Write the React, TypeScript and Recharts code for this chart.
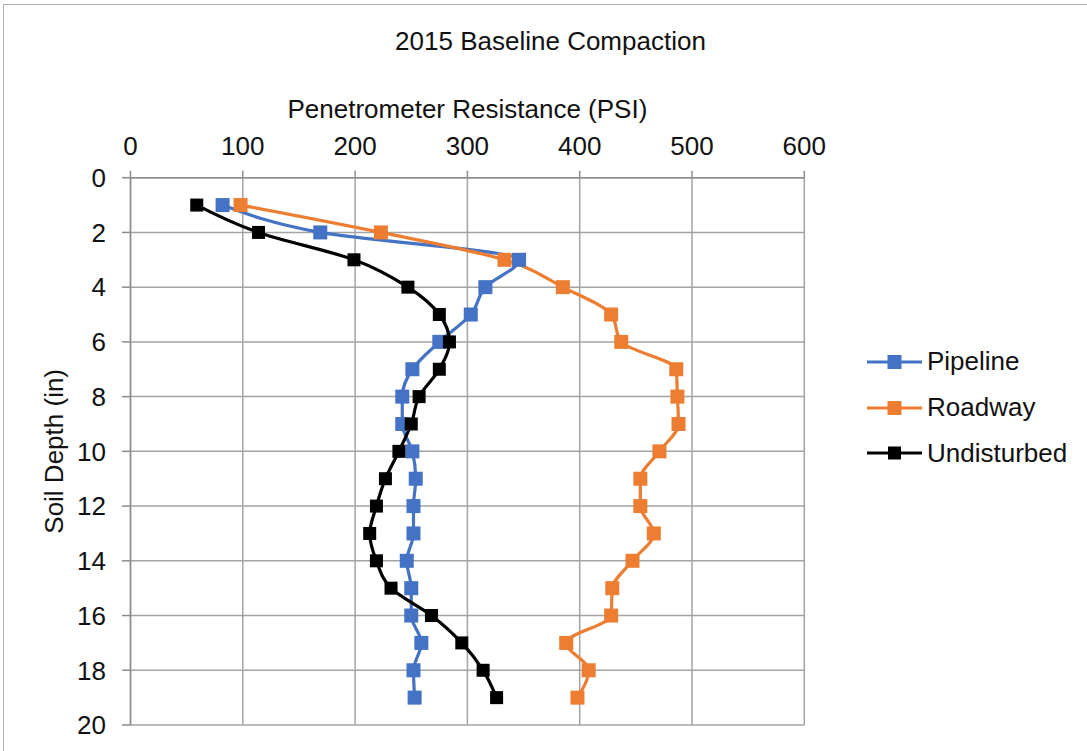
import React from "react";
import { LineChart, Line, XAxis, YAxis, CartesianGrid } from "recharts";

// Penetrometer readings (PSI) by soil depth (in)
const depths = [1, 2, 3, 4, 5, 6, 7, 8, 9, 10, 11, 12, 13, 14, 15, 16, 17, 18, 19];
const pipeline = [82, 169, 346, 316, 303, 275, 251, 242, 242, 251, 254, 252, 252, 246, 250, 250, 259, 252, 253];
const roadway = [98, 223, 333, 385, 428, 437, 486, 487, 488, 471, 454, 454, 466, 447, 429, 428, 388, 408, 398];
const undisturbed = [59, 114, 199, 247, 275, 284, 275, 257, 250, 239, 227, 219, 213, 219, 232, 268, 295, 314, 326];

const psiTicks = [0, 100, 200, 300, 400, 500, 600];
const depthTicks = [0, 2, 4, 6, 8, 10, 12, 14, 16, 18, 20];

const series = [
  { key: "Pipeline", color: "#4472C4", marker: 14 },
  { key: "Roadway", color: "#ED7D31", marker: 14 },
  { key: "Undisturbed", color: "#000000", marker: 13 },
];

const data = depths.map((depth, i) => ({
  depth,
  Pipeline: pipeline[i],
  Roadway: roadway[i],
  Undisturbed: undisturbed[i],
}));

const FONT = "'Liberation Sans', Arial, sans-serif";
const GRID = "#a3a3a3";
const tickStyle = { fontSize: 26, fill: "#111", fontFamily: FONT };

function squareDot(color: string, size: number) {
  return (props: any) => {
    const { cx, cy, index } = props;
    if (cx == null || cy == null) return <g key={index} />;
    return (
      <rect key={index} x={cx - size / 2} y={cy - size / 2} width={size} height={size} fill={color} />
    );
  };
}

function DepthLabel({ viewBox }: any) {
  const x = 63;
  const y = viewBox.y + viewBox.height / 2;
  return (
    <text
      x={x}
      y={y}
      transform={`rotate(-90, ${x}, ${y})`}
      textAnchor="middle"
      fontSize={26}
      fill="#111"
      fontFamily={FONT}
    >
      Soil Depth (in)
    </text>
  );
}

function SeriesLegend() {
  return (
    <div style={{ position: "absolute", left: 866, top: 339, fontFamily: FONT, fontSize: 26, color: "#111" }}>
      {series.map((s) => (
        <div key={s.key} style={{ display: "flex", alignItems: "center", height: 45.8 }}>
          <svg width={58} height={20} style={{ marginRight: 3 }}>
            <line x1={1} y1={10} x2={56} y2={10} stroke={s.color} strokeWidth={3.2} />
            <rect x={28.5 - s.marker / 2} y={10 - s.marker / 2} width={s.marker} height={s.marker} fill={s.color} />
          </svg>
          <span>{s.key}</span>
        </div>
      ))}
    </div>
  );
}

export default function App() {
  return (
    <div style={{ position: "absolute", left: 0, top: 0, width: 1087, height: 751, overflow: "hidden", background: "#fff" }}>
      <div
        style={{
          position: "absolute",
          left: 3,
          top: 4,
          width: 1100,
          height: 800,
          borderTop: "1.5px solid #b0b0b0",
          borderLeft: "1.5px solid #b0b0b0",
        }}
      />
      <div
        style={{
          position: "absolute",
          left: 0,
          top: 28,
          width: 1101,
          textAlign: "center",
          fontFamily: FONT,
          fontSize: 26,
          color: "#111",
          lineHeight: "26px",
        }}
      >
        2015 Baseline Compaction
      </div>
      <div style={{ position: "absolute", left: 0, top: 0 }}>
        <LineChart
          width={1087}
          height={751}
          data={data}
          layout="vertical"
          margin={{ top: 137.7, right: 282.7, bottom: 26, left: 30.5 }}
        >
          <CartesianGrid stroke={GRID} strokeWidth={1.5} horizontalValues={depthTicks} verticalValues={psiTicks} />
          <XAxis
            type="number"
            orientation="top"
            domain={[0, 600]}
            ticks={psiTicks}
            height={40}
            tickSize={7}
            tickMargin={15.7}
            tick={tickStyle}
            stroke="#8c8c8c"
            strokeWidth={1.5}
            label={{
              value: "Penetrometer Resistance (PSI)",
              position: "top",
              offset: 19.4,
              style: { fontSize: 26, fill: "#111", fontFamily: FONT },
            }}
          />
          <YAxis
            type="number"
            dataKey="depth"
            domain={[0, 20]}
            ticks={depthTicks}
            width={100}
            tickSize={8.5}
            tickMargin={16}
            tick={tickStyle}
            stroke="#8c8c8c"
            strokeWidth={1.5}
            label={<DepthLabel />}
          />
          {series.map((s) => (
            <Line
              key={s.key}
              dataKey={s.key}
              type="monotone"
              stroke={s.color}
              strokeWidth={3.2}
              dot={squareDot(s.color, s.marker)}
              activeDot={false}
              isAnimationActive={false}
            />
          ))}
        </LineChart>
      </div>
      <SeriesLegend />
    </div>
  );
}
